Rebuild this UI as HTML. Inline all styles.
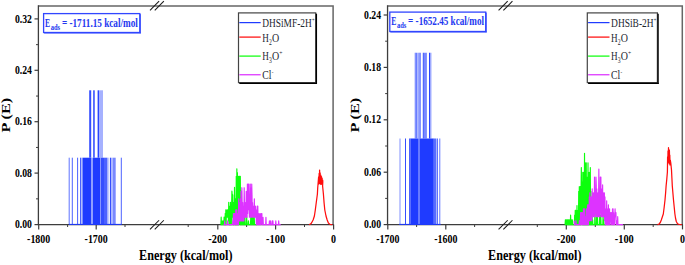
<!DOCTYPE html><html><head><meta charset="utf-8"><style>html,body{margin:0;padding:0;background:#fff}svg{display:block}</style></head><body><svg width="685" height="265" viewBox="0 0 685 265" font-family="Liberation Serif, serif">
<rect width="685" height="265" fill="#fff"/>
<path d="M38.4,5.95 H333.1 V224.6" fill="none" stroke="#666" stroke-width="1.5"/>
<path d="M38.4,5.25 V224.6 H333.8" fill="none" stroke="#3d3d3d" stroke-width="1.3"/>
<line x1="34.50" y1="224.60" x2="38.40" y2="224.60" stroke="#3d3d3d" stroke-width="1.2"/>
<line x1="34.50" y1="173.10" x2="38.40" y2="173.10" stroke="#3d3d3d" stroke-width="1.2"/>
<line x1="36.00" y1="198.85" x2="38.40" y2="198.85" stroke="#3d3d3d" stroke-width="1.0"/>
<line x1="34.50" y1="121.70" x2="38.40" y2="121.70" stroke="#3d3d3d" stroke-width="1.2"/>
<line x1="36.00" y1="147.45" x2="38.40" y2="147.45" stroke="#3d3d3d" stroke-width="1.0"/>
<line x1="34.50" y1="70.30" x2="38.40" y2="70.30" stroke="#3d3d3d" stroke-width="1.2"/>
<line x1="36.00" y1="96.05" x2="38.40" y2="96.05" stroke="#3d3d3d" stroke-width="1.0"/>
<line x1="34.50" y1="18.90" x2="38.40" y2="18.90" stroke="#3d3d3d" stroke-width="1.2"/>
<line x1="36.00" y1="44.65" x2="38.40" y2="44.65" stroke="#3d3d3d" stroke-width="1.0"/>
<line x1="38.70" y1="224.60" x2="38.70" y2="229.40" stroke="#3d3d3d" stroke-width="1.2"/>
<line x1="96.20" y1="224.60" x2="96.20" y2="229.40" stroke="#3d3d3d" stroke-width="1.2"/>
<line x1="217.80" y1="224.60" x2="217.80" y2="229.40" stroke="#3d3d3d" stroke-width="1.2"/>
<line x1="275.60" y1="224.60" x2="275.60" y2="229.40" stroke="#3d3d3d" stroke-width="1.2"/>
<line x1="333.60" y1="224.60" x2="333.60" y2="229.40" stroke="#3d3d3d" stroke-width="1.2"/>
<line x1="67.60" y1="224.60" x2="67.60" y2="227.00" stroke="#3d3d3d" stroke-width="1.0"/>
<line x1="125.00" y1="224.60" x2="125.00" y2="227.00" stroke="#3d3d3d" stroke-width="1.0"/>
<line x1="188.20" y1="224.60" x2="188.20" y2="227.00" stroke="#3d3d3d" stroke-width="1.0"/>
<line x1="246.60" y1="224.60" x2="246.60" y2="227.00" stroke="#3d3d3d" stroke-width="1.0"/>
<line x1="304.50" y1="224.60" x2="304.50" y2="227.00" stroke="#3d3d3d" stroke-width="1.0"/>
<line x1="150.00" y1="10.35" x2="159.10" y2="1.20" stroke="#1a1a1a" stroke-width="1.05"/>
<line x1="154.75" y1="10.35" x2="163.85" y2="1.20" stroke="#1a1a1a" stroke-width="1.05"/>
<line x1="150.00" y1="229.40" x2="159.10" y2="220.25" stroke="#1a1a1a" stroke-width="1.05"/>
<line x1="154.75" y1="229.40" x2="163.85" y2="220.25" stroke="#1a1a1a" stroke-width="1.05"/>
<line x1="69.00" y1="224.40" x2="121.50" y2="224.40" stroke="#1f3bff" stroke-width="1.0"/>
<rect x="82.50" y="157.70" width="8.90" height="66.90" fill="#1f3bff" fill-opacity="1"/>
<rect x="92.60" y="157.70" width="7.40" height="66.90" fill="#1f3bff" fill-opacity="1"/>
<rect x="100.60" y="157.70" width="3.40" height="66.90" fill="#1f3bff" fill-opacity="0.9"/>
<rect x="104.00" y="157.70" width="3.50" height="66.90" fill="#1f3bff" fill-opacity="0.8"/>
<rect x="91.40" y="157.70" width="1.20" height="66.90" fill="#1f3bff" fill-opacity="0.25"/>
<rect x="100.00" y="157.70" width="0.60" height="66.90" fill="#1f3bff" fill-opacity="0.45"/>
<line x1="69.20" y1="157.70" x2="69.20" y2="224.60" stroke="#1f3bff" stroke-width="0.9" stroke-opacity="0.8"/>
<line x1="72.30" y1="157.70" x2="72.30" y2="224.60" stroke="#1f3bff" stroke-width="0.9" stroke-opacity="0.9"/>
<line x1="77.60" y1="157.70" x2="77.60" y2="224.60" stroke="#1f3bff" stroke-width="0.9" stroke-opacity="0.9"/>
<line x1="80.50" y1="157.70" x2="80.50" y2="224.60" stroke="#1f3bff" stroke-width="0.9" stroke-opacity="0.9"/>
<line x1="81.80" y1="157.70" x2="81.80" y2="224.60" stroke="#1f3bff" stroke-width="0.7" stroke-opacity="0.7"/>
<line x1="108.40" y1="157.70" x2="108.40" y2="224.60" stroke="#1f3bff" stroke-width="0.6" stroke-opacity="0.5"/>
<line x1="121.30" y1="157.70" x2="121.30" y2="224.60" stroke="#1f3bff" stroke-width="0.9" stroke-opacity="0.9"/>
<rect x="109.90" y="157.70" width="1.50" height="66.90" fill="#1f3bff" fill-opacity="0.9"/>
<rect x="112.40" y="157.70" width="3.30" height="66.90" fill="#1f3bff" fill-opacity="0.6"/>
<rect x="89.20" y="90.30" width="2.00" height="67.40" fill="#1f3bff" fill-opacity="0.9"/>
<rect x="93.20" y="90.30" width="1.50" height="67.40" fill="#1f3bff" fill-opacity="0.95"/>
<rect x="97.60" y="90.30" width="1.40" height="67.40" fill="#1f3bff" fill-opacity="0.95"/>
<rect x="99.00" y="90.30" width="4.00" height="67.40" fill="#1f3bff" fill-opacity="0.4"/>
<path d="M309.00,224.60 L310.50,224.00 L311.50,223.00 L313.10,220.00 L314.40,216.00 L315.30,210.00 L316.20,203.00 L317.40,194.00 L317.70,188.00 L318.20,182.00 L318.60,177.00 L318.80,184.00 L319.15,173.50 L319.35,183.00 L319.60,170.10 L319.90,183.50 L320.15,172.80 L320.50,184.00 L320.80,175.00 L321.10,184.50 L321.45,176.50 L321.80,184.00 L322.10,178.00 L322.40,184.00 L322.70,180.00 L322.80,182.00 L322.60,186.00 L323.40,194.00 L324.10,203.00 L324.80,210.00 L326.00,216.00 L327.20,220.00 L328.40,223.00 L330.00,224.40 L332.30,224.60" fill="none" stroke="#ff0d0d" stroke-width="1.25" stroke-opacity="1" stroke-linejoin="round"/>
<path d="M220.60,224.60 L220.89,224.60 L221.18,217.16 L221.47,224.60 L221.76,220.88 L222.05,224.60 L222.34,224.60 L222.63,224.60 L222.92,220.88 L223.21,224.60 L223.50,224.60 L223.79,224.60 L224.08,217.16 L224.37,224.60 L224.66,217.16 L224.95,224.60 L225.24,213.44 L225.53,224.60 L225.82,209.72 L226.11,224.60 L226.40,213.44 L226.69,217.16 L226.98,209.72 L227.27,217.16 L227.56,209.72 L227.85,217.16 L228.14,213.44 L228.43,220.88 L228.72,202.28 L229.01,224.60 L229.30,217.16 L229.59,224.60 L229.88,206.00 L230.17,224.60 L230.46,202.28 L230.75,224.60 L231.04,209.72 L231.33,224.60 L231.62,206.00 L231.91,191.12 L232.20,194.84 L232.49,217.16 L232.78,194.84 L233.07,224.60 L233.36,206.00 L233.65,224.60 L233.94,202.28 L234.23,220.88 L234.52,187.40 L234.81,224.60 L235.10,206.00 L235.39,224.60 L235.68,198.56 L235.97,224.60 L236.26,176.24 L236.55,224.60 L236.84,168.80 L237.13,224.60 L237.42,172.52 L237.71,224.60 L238.00,176.24 L238.29,224.60 L238.58,176.24 L238.87,224.60 L239.16,176.24 L239.45,220.88 L239.74,176.24 L240.03,224.60 L240.32,176.24 L240.61,224.60 L240.90,194.84 L241.19,224.60 L241.48,191.12 L241.77,224.60 L242.06,224.60 L242.35,224.60 L242.64,209.72 L242.93,224.60 L243.22,224.60 L243.51,224.60 L243.80,220.88 L244.09,224.60 L244.38,217.16 L244.67,224.60 L244.96,217.16 L245.25,224.60 L245.54,224.60 L245.83,224.60 L246.12,224.60 L246.41,224.60 L246.70,217.16 L246.99,224.60 L247.28,224.60 L247.57,224.60 L247.86,224.60 L248.15,224.60 L248.44,220.88 L248.73,224.60 L249.02,224.60 L249.31,224.60 L249.60,224.60 L249.89,224.60 L250.18,224.60 L250.47,224.60 L250.76,217.16 L251.05,224.60 L251.34,217.16 L251.63,224.60 L251.92,224.60 L252.21,224.60 L252.50,217.16 L252.79,224.60 L253.08,224.60 L253.37,224.60 L253.66,217.16 L253.95,224.60 L254.24,217.16 L254.53,224.60 L254.82,224.60 L255.11,224.60 L255.40,224.60 L255.69,224.60 L255.98,224.60 L256.27,224.60 L256.56,224.60 L256.85,224.60" fill="none" stroke="#0dff0d" stroke-width="1.15" stroke-opacity="1" stroke-linejoin="round"/>
<path d="M223.60,224.60 L223.89,224.60 L224.18,224.60 L224.47,224.60 L224.76,220.91 L225.05,224.60 L225.34,224.60 L225.63,224.60 L225.92,224.60 L226.21,224.60 L226.50,224.60 L226.79,224.60 L227.08,224.60 L227.37,224.60 L227.66,220.91 L227.95,224.60 L228.24,224.60 L228.53,224.60 L228.82,224.60 L229.11,224.60 L229.40,224.60 L229.69,224.60 L229.98,224.60 L230.27,224.60 L230.56,224.60 L230.85,224.60 L231.14,224.60 L231.43,224.60 L231.72,224.60 L232.01,224.60 L232.30,224.60 L232.59,224.60 L232.88,220.91 L233.17,224.60 L233.46,213.53 L233.75,224.60 L234.04,213.53 L234.33,224.60 L234.62,213.53 L234.91,224.60 L235.20,217.22 L235.49,224.60 L235.78,209.84 L236.07,224.60 L236.36,209.84 L236.65,224.60 L236.94,209.84 L237.23,224.60 L237.52,213.53 L237.81,224.60 L238.10,213.53 L238.39,224.60 L238.68,198.77 L238.97,220.91 L239.26,206.15 L239.55,220.91 L239.84,202.46 L240.13,220.91 L240.42,198.77 L240.71,220.91 L241.00,191.39 L241.29,220.91 L241.58,220.91 L241.87,187.70 L242.16,206.15 L242.45,220.91 L242.74,202.46 L243.03,220.91 L243.32,206.15 L243.61,220.91 L243.90,220.91 L244.19,187.70 L244.48,202.46 L244.77,217.22 L245.06,202.46 L245.35,217.22 L245.64,217.22 L245.93,217.22 L246.22,191.39 L246.51,217.22 L246.80,202.46 L247.09,217.22 L247.38,184.01 L247.67,213.53 L247.96,198.77 L248.25,184.01 L248.54,184.01 L248.83,209.84 L249.12,206.15 L249.41,217.22 L249.70,202.46 L249.99,184.01 L250.28,184.01 L250.57,217.22 L250.86,187.70 L251.15,217.22 L251.44,198.77 L251.73,184.01 L252.02,195.08 L252.31,217.22 L252.60,202.46 L252.89,213.53 L253.18,206.15 L253.47,217.22 L253.76,217.22 L254.05,217.22 L254.34,198.77 L254.63,217.22 L254.92,209.84 L255.21,217.22 L255.50,206.15 L255.79,213.53 L256.08,209.84 L256.37,224.60 L256.66,213.53 L256.95,224.60 L257.24,206.15 L257.53,224.60 L257.82,206.15 L258.11,224.60 L258.40,224.60 L258.69,224.60 L258.98,213.53 L259.27,224.60 L259.56,217.22 L259.85,224.60 L260.14,213.53 L260.43,224.60 L260.72,217.22 L261.01,224.60 L261.30,213.53 L261.59,217.22 L261.88,213.53 L262.17,224.60 L262.46,224.60 L262.75,224.60 L263.04,217.22 L263.33,224.60 L263.62,224.60 L263.91,224.60 L264.20,224.60 L264.49,224.60 L264.78,224.60 L265.07,224.60 L265.36,224.60 L265.65,224.60 L265.94,217.22 L266.23,224.60 L266.52,224.60 L266.81,224.60 L267.10,224.60 L267.39,224.60 L267.68,224.60 L267.97,224.60 L268.26,224.60 L268.55,224.60 L268.84,224.60 L269.13,224.60 L269.42,220.91 L269.71,224.60 L270.00,224.60 L270.29,224.60 L270.58,220.91 L270.87,224.60 L271.16,224.60 L271.45,224.60 L271.74,224.60 L272.03,224.60 L272.32,220.91 L272.61,224.60 L272.90,220.91 L273.19,224.60 L273.48,224.60 L273.77,224.60 L274.06,224.60 L274.35,224.60 L274.64,224.60 L274.93,224.60 L275.22,224.60 L275.51,224.60 L275.80,220.91 L276.09,224.60 L276.38,224.60 L276.67,224.60 L276.96,224.60 L277.25,224.60 L277.54,224.60 L277.83,224.60 L278.12,224.60 L278.41,224.60 L278.70,220.91 L278.99,224.60 L279.28,224.60 L279.57,224.60 L279.86,224.60 L280.15,224.60 L280.44,224.60 L280.73,224.60" fill="none" stroke="#dd33ff" stroke-width="1.15" stroke-opacity="1" stroke-linejoin="round"/>
<text x="31.90" y="228.20" font-size="13.2" font-weight="bold" text-anchor="end" fill="#000" textLength="17.0" lengthAdjust="spacingAndGlyphs">0.00</text>
<text x="31.90" y="176.70" font-size="13.2" font-weight="bold" text-anchor="end" fill="#000" textLength="17.0" lengthAdjust="spacingAndGlyphs">0.08</text>
<text x="31.90" y="125.30" font-size="13.2" font-weight="bold" text-anchor="end" fill="#000" textLength="17.0" lengthAdjust="spacingAndGlyphs">0.16</text>
<text x="31.90" y="73.90" font-size="13.2" font-weight="bold" text-anchor="end" fill="#000" textLength="17.0" lengthAdjust="spacingAndGlyphs">0.24</text>
<text x="31.90" y="22.50" font-size="13.2" font-weight="bold" text-anchor="end" fill="#000" textLength="17.0" lengthAdjust="spacingAndGlyphs">0.32</text>
<text x="38.70" y="242.50" font-size="13.2" font-weight="bold" text-anchor="middle" fill="#000" textLength="23.2" lengthAdjust="spacingAndGlyphs">-1800</text>
<text x="96.20" y="242.50" font-size="13.2" font-weight="bold" text-anchor="middle" fill="#000" textLength="23.2" lengthAdjust="spacingAndGlyphs">-1700</text>
<text x="217.80" y="242.50" font-size="13.2" font-weight="bold" text-anchor="middle" fill="#000" textLength="19" lengthAdjust="spacingAndGlyphs">-200</text>
<text x="275.60" y="242.50" font-size="13.2" font-weight="bold" text-anchor="middle" fill="#000" textLength="19" lengthAdjust="spacingAndGlyphs">-100</text>
<text x="333.60" y="242.50" font-size="13.2" font-weight="bold" text-anchor="middle" fill="#000" textLength="5" lengthAdjust="spacingAndGlyphs">0</text>
<rect x="43.6" y="13.6" width="96.20" height="18.90" fill="#fff" stroke="#3146ff" stroke-width="1.3"/>
<line x1="140.30" y1="14.10" x2="140.30" y2="33.40" stroke="#3146ff" stroke-width="1.0"/>
<line x1="44.10" y1="33.00" x2="140.70" y2="33.00" stroke="#3146ff" stroke-width="1.0"/>
<text x="45.10" y="26.50" font-size="12.2" font-weight="bold" text-anchor="start" fill="#2438f0" textLength="5.1" lengthAdjust="spacingAndGlyphs">E</text>
<text x="50.70" y="29.80" font-size="8.2" font-weight="bold" text-anchor="start" fill="#2438f0" textLength="9.4" lengthAdjust="spacingAndGlyphs">ads</text>
<text x="61.90" y="26.50" font-size="12.2" font-weight="bold" text-anchor="start" fill="#2438f0" textLength="76.0" lengthAdjust="spacingAndGlyphs">= -1711.15 kcal/mol</text>
<rect x="238.5" y="12.9" width="77.20" height="69.70" fill="#fff" stroke="#444" stroke-width="1.2"/>
<line x1="316.40" y1="13.70" x2="316.40" y2="83.90" stroke="#000" stroke-width="1.3"/>
<line x1="239.30" y1="83.30" x2="317.00" y2="83.30" stroke="#000" stroke-width="1.3"/>
<line x1="239.30" y1="22.60" x2="260.70" y2="22.60" stroke="#1f3bff" stroke-width="1.25"/>
<line x1="239.30" y1="37.10" x2="260.70" y2="37.10" stroke="#ff0d0d" stroke-width="1.25"/>
<line x1="239.30" y1="56.10" x2="260.70" y2="56.10" stroke="#0dff0d" stroke-width="1.25"/>
<line x1="239.30" y1="74.75" x2="260.70" y2="74.75" stroke="#dd33ff" stroke-width="1.25"/>
<text x="262.30" y="26.75" font-size="12.3" font-weight="normal" text-anchor="start" fill="#1c2630" textLength="49.4" lengthAdjust="spacingAndGlyphs">DHSiMF-2H</text>
<text x="311.90" y="22.00" font-size="7" font-weight="normal" text-anchor="start" fill="#1c2630" textLength="2.6" lengthAdjust="spacingAndGlyphs">+</text>
<text x="262.30" y="41.50" font-size="12.3" font-weight="normal" text-anchor="start" fill="#1c2630" textLength="6.6" lengthAdjust="spacingAndGlyphs">H</text>
<text x="269.00" y="44.60" font-size="7.5" font-weight="normal" text-anchor="start" fill="#1c2630" textLength="2.8" lengthAdjust="spacingAndGlyphs">2</text>
<text x="271.90" y="41.50" font-size="12.3" font-weight="normal" text-anchor="start" fill="#1c2630" textLength="7.2" lengthAdjust="spacingAndGlyphs">O</text>
<text x="262.30" y="59.65" font-size="12.3" font-weight="normal" text-anchor="start" fill="#1c2630" textLength="6.6" lengthAdjust="spacingAndGlyphs">H</text>
<text x="269.00" y="62.70" font-size="7.5" font-weight="normal" text-anchor="start" fill="#1c2630" textLength="2.8" lengthAdjust="spacingAndGlyphs">3</text>
<text x="271.90" y="59.65" font-size="12.3" font-weight="normal" text-anchor="start" fill="#1c2630" textLength="7.2" lengthAdjust="spacingAndGlyphs">O</text>
<text x="279.30" y="55.00" font-size="7" font-weight="normal" text-anchor="start" fill="#1c2630" textLength="3.2" lengthAdjust="spacingAndGlyphs">+</text>
<text x="262.30" y="78.75" font-size="12.3" font-weight="normal" text-anchor="start" fill="#1c2630" textLength="9.2" lengthAdjust="spacingAndGlyphs">Cl</text>
<text x="271.70" y="74.00" font-size="7" font-weight="normal" text-anchor="start" fill="#1c2630" textLength="1.7" lengthAdjust="spacingAndGlyphs">-</text>
<text transform="translate(10.2,115.2) rotate(-90)" font-size="12.8" font-weight="bold" text-anchor="middle" fill="#000" textLength="34.5" lengthAdjust="spacingAndGlyphs">P (E)</text>
<path d="M387.55,5.95 H682.3 V224.6" fill="none" stroke="#666" stroke-width="1.5"/>
<path d="M387.55,5.25 V224.6 H683.0" fill="none" stroke="#3d3d3d" stroke-width="1.3"/>
<line x1="383.65" y1="224.60" x2="387.55" y2="224.60" stroke="#3d3d3d" stroke-width="1.2"/>
<line x1="383.65" y1="172.20" x2="387.55" y2="172.20" stroke="#3d3d3d" stroke-width="1.2"/>
<line x1="385.15" y1="198.40" x2="387.55" y2="198.40" stroke="#3d3d3d" stroke-width="1.0"/>
<line x1="383.65" y1="119.80" x2="387.55" y2="119.80" stroke="#3d3d3d" stroke-width="1.2"/>
<line x1="385.15" y1="146.00" x2="387.55" y2="146.00" stroke="#3d3d3d" stroke-width="1.0"/>
<line x1="383.65" y1="67.40" x2="387.55" y2="67.40" stroke="#3d3d3d" stroke-width="1.2"/>
<line x1="385.15" y1="93.60" x2="387.55" y2="93.60" stroke="#3d3d3d" stroke-width="1.0"/>
<line x1="383.65" y1="15.00" x2="387.55" y2="15.00" stroke="#3d3d3d" stroke-width="1.2"/>
<line x1="385.15" y1="41.20" x2="387.55" y2="41.20" stroke="#3d3d3d" stroke-width="1.0"/>
<line x1="387.80" y1="224.60" x2="387.80" y2="229.40" stroke="#3d3d3d" stroke-width="1.2"/>
<line x1="445.80" y1="224.60" x2="445.80" y2="229.40" stroke="#3d3d3d" stroke-width="1.2"/>
<line x1="566.30" y1="224.60" x2="566.30" y2="229.40" stroke="#3d3d3d" stroke-width="1.2"/>
<line x1="624.30" y1="224.60" x2="624.30" y2="229.40" stroke="#3d3d3d" stroke-width="1.2"/>
<line x1="682.50" y1="224.60" x2="682.50" y2="229.40" stroke="#3d3d3d" stroke-width="1.2"/>
<line x1="416.60" y1="224.60" x2="416.60" y2="227.00" stroke="#3d3d3d" stroke-width="1.0"/>
<line x1="474.60" y1="224.60" x2="474.60" y2="227.00" stroke="#3d3d3d" stroke-width="1.0"/>
<line x1="537.30" y1="224.60" x2="537.30" y2="227.00" stroke="#3d3d3d" stroke-width="1.0"/>
<line x1="595.30" y1="224.60" x2="595.30" y2="227.00" stroke="#3d3d3d" stroke-width="1.0"/>
<line x1="653.20" y1="224.60" x2="653.20" y2="227.00" stroke="#3d3d3d" stroke-width="1.0"/>
<line x1="498.60" y1="10.35" x2="507.70" y2="1.20" stroke="#1a1a1a" stroke-width="1.05"/>
<line x1="503.35" y1="10.35" x2="512.45" y2="1.20" stroke="#1a1a1a" stroke-width="1.05"/>
<line x1="498.60" y1="229.40" x2="507.70" y2="220.25" stroke="#1a1a1a" stroke-width="1.05"/>
<line x1="503.35" y1="229.40" x2="512.45" y2="220.25" stroke="#1a1a1a" stroke-width="1.05"/>
<line x1="399.20" y1="224.40" x2="440.60" y2="224.40" stroke="#1f3bff" stroke-width="1.0"/>
<rect x="399.30" y="138.50" width="1.40" height="86.10" fill="#1f3bff" fill-opacity="0.4"/>
<rect x="405.00" y="138.50" width="1.00" height="86.10" fill="#1f3bff" fill-opacity="0.9"/>
<rect x="409.00" y="138.50" width="1.40" height="86.10" fill="#1f3bff" fill-opacity="0.8"/>
<rect x="410.40" y="138.50" width="8.20" height="86.10" fill="#1f3bff" fill-opacity="1"/>
<rect x="418.60" y="138.50" width="0.80" height="86.10" fill="#1f3bff" fill-opacity="0.45"/>
<rect x="419.40" y="138.50" width="14.35" height="86.10" fill="#1f3bff" fill-opacity="1"/>
<rect x="433.75" y="138.50" width="2.75" height="86.10" fill="#1f3bff" fill-opacity="0.75"/>
<rect x="437.10" y="138.50" width="0.80" height="86.10" fill="#1f3bff" fill-opacity="0.9"/>
<rect x="439.00" y="138.50" width="1.40" height="86.10" fill="#1f3bff" fill-opacity="0.5"/>
<rect x="414.40" y="52.75" width="1.10" height="85.75" fill="#1f3bff" fill-opacity="0.3"/>
<rect x="415.50" y="52.75" width="1.20" height="85.75" fill="#1f3bff" fill-opacity="0.95"/>
<rect x="417.20" y="52.75" width="2.40" height="85.75" fill="#1f3bff" fill-opacity="0.45"/>
<rect x="419.60" y="52.75" width="1.00" height="85.75" fill="#1f3bff" fill-opacity="0.9"/>
<rect x="422.80" y="52.75" width="1.00" height="85.75" fill="#1f3bff" fill-opacity="0.9"/>
<rect x="423.80" y="52.75" width="3.10" height="85.75" fill="#1f3bff" fill-opacity="0.6"/>
<rect x="429.00" y="52.75" width="1.10" height="85.75" fill="#1f3bff" fill-opacity="0.95"/>
<rect x="430.10" y="52.75" width="1.40" height="85.75" fill="#1f3bff" fill-opacity="0.4"/>
<path d="M657.50,224.60 L659.00,224.20 L660.30,222.50 L661.30,220.00 L662.30,217.00 L663.30,214.00 L664.20,207.00 L665.00,200.00 L665.60,193.00 L666.10,186.00 L666.80,179.00 L667.40,172.00 L667.50,165.00 L667.60,157.00 L667.80,164.00 L668.00,151.00 L668.25,161.00 L668.50,147.70 L668.75,162.00 L668.95,150.50 L669.20,163.00 L669.40,150.00 L669.65,164.00 L669.80,155.00 L670.05,165.00 L670.30,160.00 L670.80,163.00 L671.50,170.00 L671.90,178.00 L672.30,186.00 L672.90,193.00 L673.50,200.00 L674.20,207.00 L674.90,214.00 L675.50,218.00 L676.30,221.50 L677.50,223.80 L679.50,224.50 L681.80,224.60" fill="none" stroke="#ff0d0d" stroke-width="1.25" stroke-opacity="1" stroke-linejoin="round"/>
<path d="M564.80,224.60 L565.09,224.60 L565.38,219.85 L565.67,224.60 L565.96,219.85 L566.25,224.60 L566.54,219.85 L566.83,224.60 L567.12,219.85 L567.41,224.60 L567.70,219.85 L567.99,224.60 L568.28,219.85 L568.57,224.60 L568.86,219.85 L569.15,224.60 L569.44,219.85 L569.73,224.60 L570.02,224.60 L570.31,224.60 L570.60,215.10 L570.89,224.60 L571.18,219.85 L571.47,224.60 L571.76,219.85 L572.05,224.60 L572.34,219.85 L572.63,224.60 L572.92,224.60 L573.21,224.60 L573.50,224.60 L573.79,224.60 L574.08,224.60 L574.37,224.60 L574.66,215.10 L574.95,224.60 L575.24,210.35 L575.53,224.60 L575.82,210.35 L576.11,224.60 L576.40,224.60 L576.69,224.60 L576.98,205.60 L577.27,224.60 L577.56,210.35 L577.85,224.60 L578.14,224.60 L578.43,224.60 L578.72,191.35 L579.01,224.60 L579.30,186.60 L579.59,224.60 L579.88,224.60 L580.17,224.60 L580.46,186.60 L580.75,224.60 L581.04,191.35 L581.33,167.60 L581.62,196.10 L581.91,215.10 L582.20,181.85 L582.49,224.60 L582.78,172.35 L583.07,224.60 L583.36,172.35 L583.65,224.60 L583.94,172.35 L584.23,224.60 L584.52,153.35 L584.81,224.60 L585.10,162.85 L585.39,224.60 L585.68,162.85 L585.97,224.60 L586.26,162.85 L586.55,224.60 L586.84,215.10 L587.13,224.60 L587.42,177.10 L587.71,224.60 L588.00,162.85 L588.29,224.60 L588.58,172.35 L588.87,224.60 L589.16,172.35 L589.45,224.60 L589.74,172.35 L590.03,224.60 L590.32,167.60 L590.61,224.60 L590.90,191.35 L591.19,224.60 L591.48,200.85 L591.77,224.60 L592.06,215.10 L592.35,224.60 L592.64,219.85 L592.93,224.60 L593.22,224.60 L593.51,224.60 L593.80,224.60 L594.09,224.60 L594.38,224.60 L594.67,224.60 L594.96,210.35 L595.25,224.60 L595.54,224.60 L595.83,224.60 L596.12,224.60 L596.41,224.60 L596.70,210.35 L596.99,224.60 L597.28,210.35 L597.57,224.60 L597.86,224.60 L598.15,224.60 L598.44,224.60 L598.73,224.60 L599.02,224.60 L599.31,224.60 L599.60,215.10 L599.89,224.60 L600.18,224.60 L600.47,224.60 L600.76,215.10 L601.05,224.60 L601.34,224.60 L601.63,224.60 L601.92,224.60 L602.21,224.60 L602.50,224.60 L602.79,224.60 L603.08,215.10 L603.37,224.60 L603.66,219.85 L603.95,224.60 L604.24,224.60 L604.53,224.60 L604.82,224.60 L605.11,224.60 L605.40,224.60 L605.69,224.60 L605.98,224.60" fill="none" stroke="#0dff0d" stroke-width="1.15" stroke-opacity="1" stroke-linejoin="round"/>
<path d="M574.20,220.63 L574.49,224.60 L574.78,224.60 L575.07,224.60 L575.36,224.60 L575.65,224.60 L575.94,220.63 L576.23,224.60 L576.52,224.60 L576.81,224.60 L577.10,224.60 L577.39,224.60 L577.68,224.60 L577.97,224.60 L578.26,224.60 L578.55,224.60 L578.84,224.60 L579.13,224.60 L579.42,220.63 L579.71,224.60 L580.00,224.60 L580.29,224.60 L580.58,212.69 L580.87,224.60 L581.16,212.69 L581.45,224.60 L581.74,212.69 L582.03,224.60 L582.32,212.69 L582.61,224.60 L582.90,224.60 L583.19,224.60 L583.48,208.72 L583.77,224.60 L584.06,208.72 L584.35,224.60 L584.64,208.72 L584.93,224.60 L585.22,224.60 L585.51,224.60 L585.80,216.66 L586.09,224.60 L586.38,208.72 L586.67,224.60 L586.96,224.60 L587.25,224.60 L587.54,204.75 L587.83,224.60 L588.12,204.75 L588.41,224.60 L588.70,208.72 L588.99,220.63 L589.28,196.81 L589.57,220.63 L589.86,192.84 L590.15,220.63 L590.44,196.81 L590.73,216.66 L591.02,196.81 L591.31,220.63 L591.60,196.81 L591.89,220.63 L592.18,188.87 L592.47,216.66 L592.76,200.78 L593.05,208.72 L593.34,192.84 L593.63,216.66 L593.92,208.72 L594.21,216.66 L594.50,176.96 L594.79,216.66 L595.08,216.66 L595.37,212.69 L595.66,196.81 L595.95,176.96 L596.24,184.90 L596.53,216.66 L596.82,188.87 L597.11,216.66 L597.40,216.66 L597.69,216.66 L597.98,192.84 L598.27,216.66 L598.56,200.78 L598.85,169.02 L599.14,200.78 L599.43,216.66 L599.72,192.84 L600.01,216.66 L600.30,176.96 L600.59,208.72 L600.88,176.96 L601.17,212.69 L601.46,216.66 L601.75,212.69 L602.04,188.87 L602.33,216.66 L602.62,184.90 L602.91,216.66 L603.20,204.75 L603.49,216.66 L603.78,192.84 L604.07,216.66 L604.36,192.84 L604.65,220.63 L604.94,196.81 L605.23,224.60 L605.52,208.72 L605.81,216.66 L606.10,224.60 L606.39,224.60 L606.68,200.78 L606.97,224.60 L607.26,208.72 L607.55,224.60 L607.84,224.60 L608.13,224.60 L608.42,204.75 L608.71,224.60 L609.00,224.60 L609.29,224.60 L609.58,208.72 L609.87,224.60 L610.16,224.60 L610.45,220.63 L610.74,212.69 L611.03,220.63 L611.32,212.69 L611.61,224.60 L611.90,212.69 L612.19,224.60 L612.48,208.72 L612.77,224.60 L613.06,208.72 L613.35,224.60 L613.64,212.69 L613.93,224.60 L614.22,216.66 L614.51,224.60 L614.80,216.66 L615.09,208.72 L615.38,216.66 L615.67,216.66 L615.96,212.69 L616.25,224.60 L616.54,220.63 L616.83,224.60 L617.12,224.60 L617.41,224.60 L617.70,216.66 L617.99,224.60 L618.28,224.60 L618.57,224.60 L618.86,224.60 L619.15,224.60 L619.44,224.60 L619.73,224.60 L620.02,224.60 L620.31,224.60 L620.60,224.60 L620.89,224.60 L621.18,224.60 L621.47,224.60 L621.76,224.60 L622.05,224.60 L622.34,224.60 L622.63,224.60 L622.92,224.60" fill="none" stroke="#dd33ff" stroke-width="1.15" stroke-opacity="1" stroke-linejoin="round"/>
<text x="381.05" y="228.20" font-size="13.2" font-weight="bold" text-anchor="end" fill="#000" textLength="17.0" lengthAdjust="spacingAndGlyphs">0.00</text>
<text x="381.05" y="175.80" font-size="13.2" font-weight="bold" text-anchor="end" fill="#000" textLength="17.0" lengthAdjust="spacingAndGlyphs">0.06</text>
<text x="381.05" y="123.40" font-size="13.2" font-weight="bold" text-anchor="end" fill="#000" textLength="17.0" lengthAdjust="spacingAndGlyphs">0.12</text>
<text x="381.05" y="71.00" font-size="13.2" font-weight="bold" text-anchor="end" fill="#000" textLength="17.0" lengthAdjust="spacingAndGlyphs">0.18</text>
<text x="381.05" y="18.60" font-size="13.2" font-weight="bold" text-anchor="end" fill="#000" textLength="17.0" lengthAdjust="spacingAndGlyphs">0.24</text>
<text x="387.80" y="242.50" font-size="13.2" font-weight="bold" text-anchor="middle" fill="#000" textLength="23.2" lengthAdjust="spacingAndGlyphs">-1700</text>
<text x="445.80" y="242.50" font-size="13.2" font-weight="bold" text-anchor="middle" fill="#000" textLength="23.2" lengthAdjust="spacingAndGlyphs">-1600</text>
<text x="566.30" y="242.50" font-size="13.2" font-weight="bold" text-anchor="middle" fill="#000" textLength="19" lengthAdjust="spacingAndGlyphs">-200</text>
<text x="624.30" y="242.50" font-size="13.2" font-weight="bold" text-anchor="middle" fill="#000" textLength="19" lengthAdjust="spacingAndGlyphs">-100</text>
<text x="682.50" y="242.50" font-size="13.2" font-weight="bold" text-anchor="middle" fill="#000" textLength="5" lengthAdjust="spacingAndGlyphs">0</text>
<rect x="389.8" y="12.1" width="95.90" height="19.40" fill="#fff" stroke="#3146ff" stroke-width="1.3"/>
<line x1="486.20" y1="12.60" x2="486.20" y2="32.40" stroke="#3146ff" stroke-width="1.0"/>
<line x1="390.30" y1="32.00" x2="486.60" y2="32.00" stroke="#3146ff" stroke-width="1.0"/>
<text x="391.30" y="25.00" font-size="12.2" font-weight="bold" text-anchor="start" fill="#2438f0" textLength="5.1" lengthAdjust="spacingAndGlyphs">E</text>
<text x="396.90" y="28.30" font-size="8.2" font-weight="bold" text-anchor="start" fill="#2438f0" textLength="9.4" lengthAdjust="spacingAndGlyphs">ads</text>
<text x="408.10" y="25.00" font-size="12.2" font-weight="bold" text-anchor="start" fill="#2438f0" textLength="76.0" lengthAdjust="spacingAndGlyphs">= -1652.45 kcal/mol</text>
<rect x="587.3" y="12.9" width="70.10" height="69.70" fill="#fff" stroke="#444" stroke-width="1.2"/>
<line x1="658.10" y1="13.70" x2="658.10" y2="83.90" stroke="#000" stroke-width="1.3"/>
<line x1="588.10" y1="83.30" x2="658.70" y2="83.30" stroke="#000" stroke-width="1.3"/>
<line x1="588.10" y1="22.60" x2="609.50" y2="22.60" stroke="#1f3bff" stroke-width="1.25"/>
<line x1="588.10" y1="37.10" x2="609.50" y2="37.10" stroke="#ff0d0d" stroke-width="1.25"/>
<line x1="588.10" y1="56.10" x2="609.50" y2="56.10" stroke="#0dff0d" stroke-width="1.25"/>
<line x1="588.10" y1="74.75" x2="609.50" y2="74.75" stroke="#dd33ff" stroke-width="1.25"/>
<text x="611.10" y="26.75" font-size="12.3" font-weight="normal" text-anchor="start" fill="#1c2630" textLength="42.5" lengthAdjust="spacingAndGlyphs">DHSiB-2H</text>
<text x="653.80" y="22.00" font-size="7" font-weight="normal" text-anchor="start" fill="#1c2630" textLength="2.6" lengthAdjust="spacingAndGlyphs">+</text>
<text x="611.10" y="41.50" font-size="12.3" font-weight="normal" text-anchor="start" fill="#1c2630" textLength="6.6" lengthAdjust="spacingAndGlyphs">H</text>
<text x="617.80" y="44.60" font-size="7.5" font-weight="normal" text-anchor="start" fill="#1c2630" textLength="2.8" lengthAdjust="spacingAndGlyphs">2</text>
<text x="620.70" y="41.50" font-size="12.3" font-weight="normal" text-anchor="start" fill="#1c2630" textLength="7.2" lengthAdjust="spacingAndGlyphs">O</text>
<text x="611.10" y="59.65" font-size="12.3" font-weight="normal" text-anchor="start" fill="#1c2630" textLength="6.6" lengthAdjust="spacingAndGlyphs">H</text>
<text x="617.80" y="62.70" font-size="7.5" font-weight="normal" text-anchor="start" fill="#1c2630" textLength="2.8" lengthAdjust="spacingAndGlyphs">3</text>
<text x="620.70" y="59.65" font-size="12.3" font-weight="normal" text-anchor="start" fill="#1c2630" textLength="7.2" lengthAdjust="spacingAndGlyphs">O</text>
<text x="628.10" y="55.00" font-size="7" font-weight="normal" text-anchor="start" fill="#1c2630" textLength="3.2" lengthAdjust="spacingAndGlyphs">+</text>
<text x="611.10" y="78.75" font-size="12.3" font-weight="normal" text-anchor="start" fill="#1c2630" textLength="9.2" lengthAdjust="spacingAndGlyphs">Cl</text>
<text x="620.50" y="74.00" font-size="7" font-weight="normal" text-anchor="start" fill="#1c2630" textLength="1.7" lengthAdjust="spacingAndGlyphs">-</text>
<text transform="translate(359,115.2) rotate(-90)" font-size="12.8" font-weight="bold" text-anchor="middle" fill="#000" textLength="34.5" lengthAdjust="spacingAndGlyphs">P (E)</text>
<text x="185.80" y="259.60" font-size="13.8" font-weight="bold" text-anchor="middle" fill="#000" textLength="93.5" lengthAdjust="spacingAndGlyphs">Energy (kcal/mol)</text>
<text x="534.80" y="259.60" font-size="13.8" font-weight="bold" text-anchor="middle" fill="#000" textLength="93.5" lengthAdjust="spacingAndGlyphs">Energy (kcal/mol)</text>
</svg></body></html>
